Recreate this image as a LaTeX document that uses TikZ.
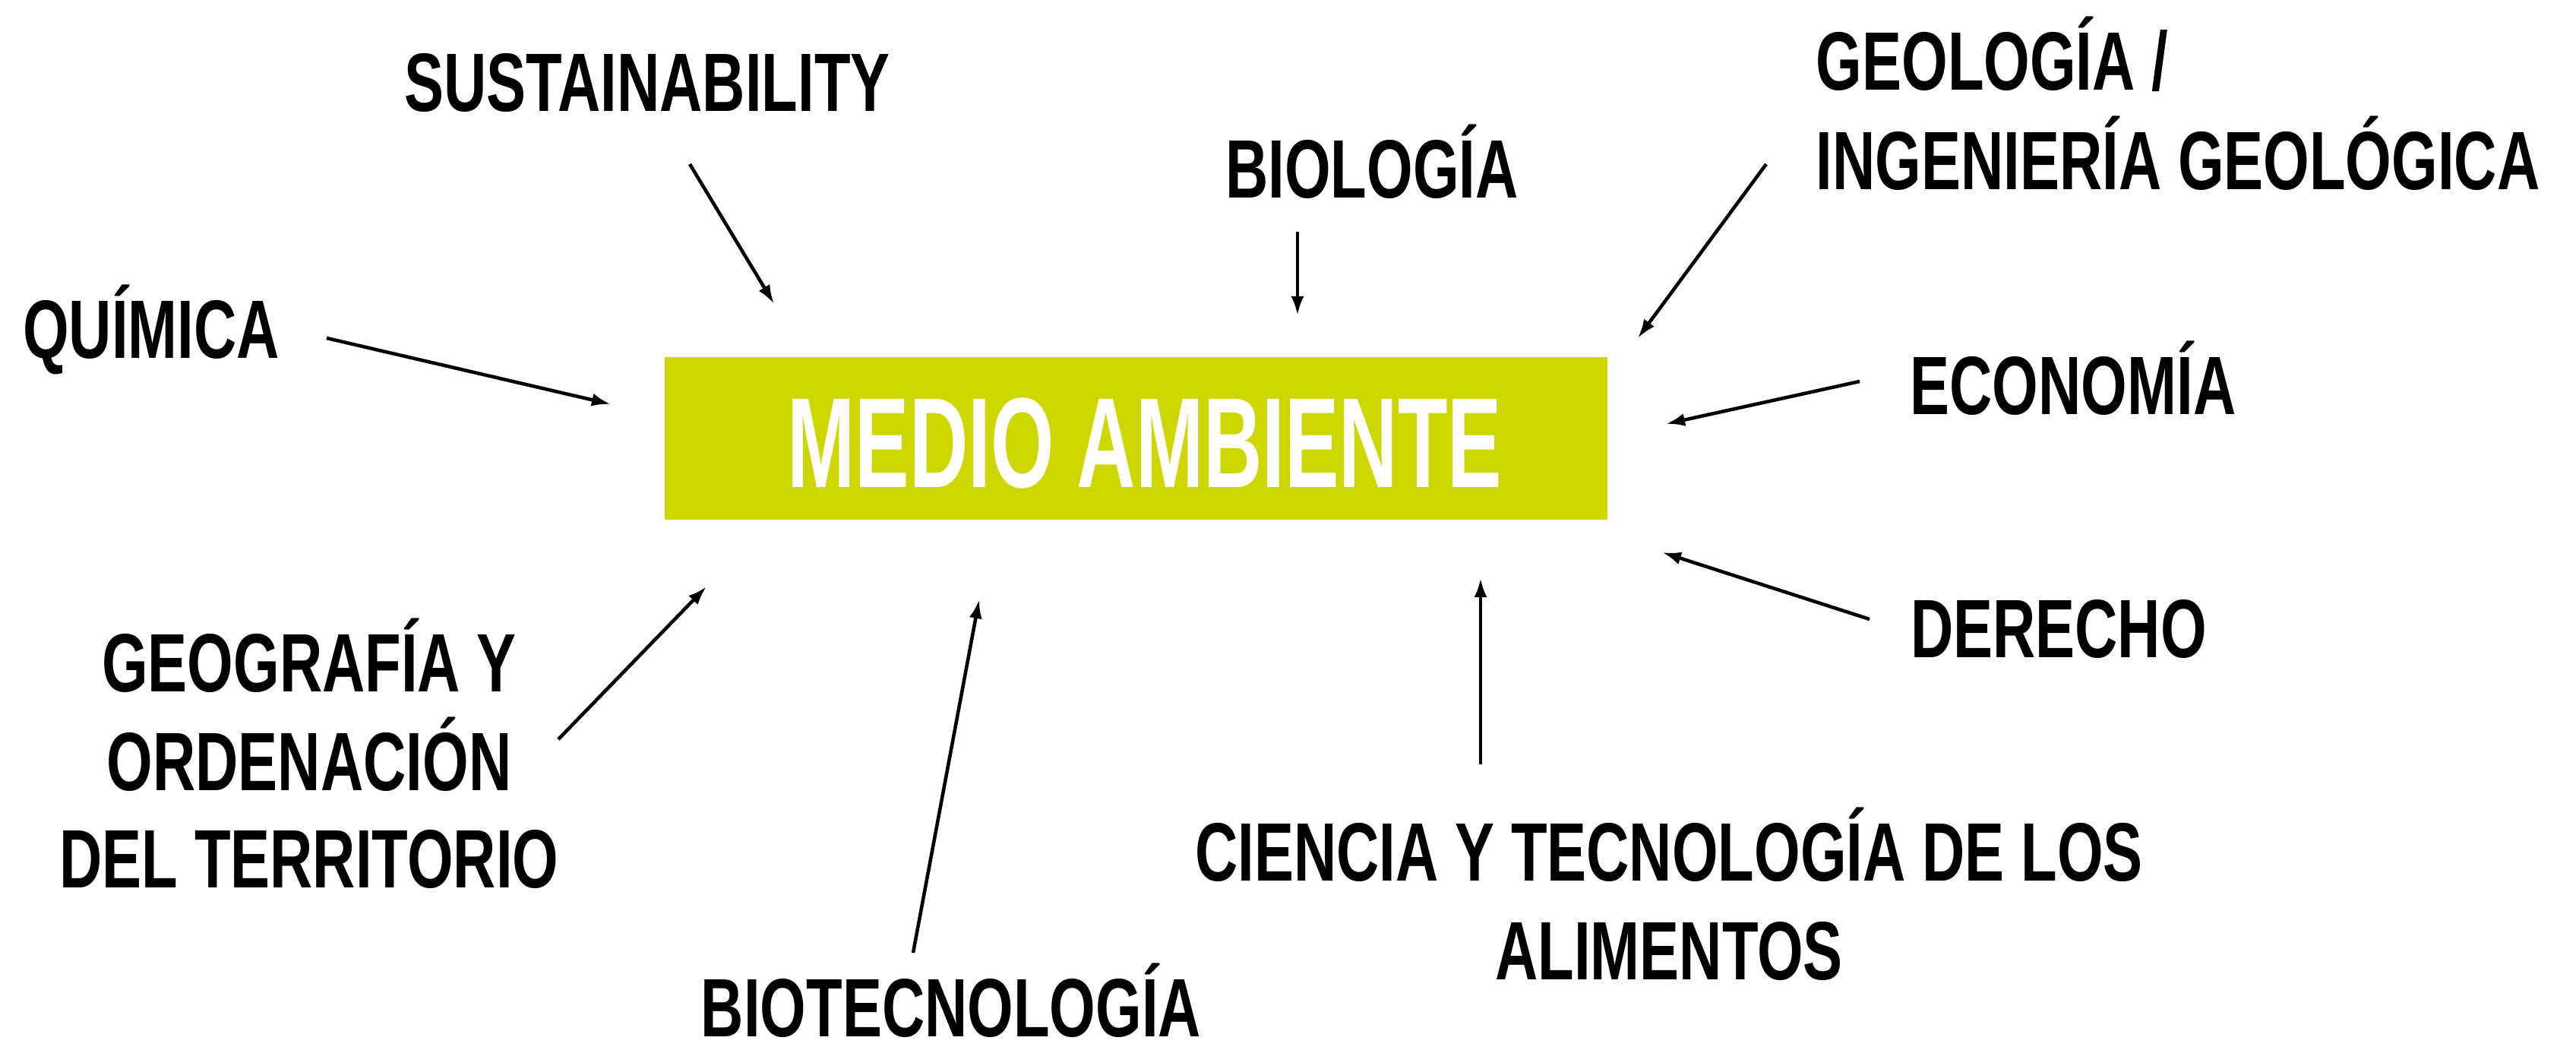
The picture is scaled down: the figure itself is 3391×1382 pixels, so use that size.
\documentclass[tikz,border=0pt]{standalone}
\usepackage{fontspec}
\usetikzlibrary{arrows.meta}
\newfontfamily\lblfont[FakeStretch=0.715]{Liberation Sans}
\newfontfamily\ctrfont[FakeStretch=0.635]{Liberation Sans}
\definecolor{boxgreen}{RGB}{206,214,0}
\begin{document}
\begin{tikzpicture}[x=0.01cm,y=-0.01cm,
  lbl/.style={font=\lblfont\bfseries\fontsize{31}{37}\selectfont, inner sep=0pt, text depth=0pt, anchor=base, text=black},
  conn/.style={line width=1.3pt, -{Latex[length=0.25cm,width=0.17cm]}}]
\useasboundingbox[fill=white] (0,0) rectangle (3391,1382);
% central box
\node[fill=boxgreen, minimum width=12.41cm, minimum height=2.14cm, inner sep=0pt, anchor=north west] (box) at (874,469) {};
\node[font=\ctrfont\bfseries\fontsize{48}{55}\selectfont, text=white, inner sep=0pt, anchor=base] (ma) at (1507,641) {MEDIO AMBIENTE};
% labels
\node[lbl] (sus) at (852,147) {SUSTAINABILITY};
\node[lbl] (bio) at (1806,260) {BIOLOGÍA};
\node[lbl, anchor=base west] (geo1) at (2390,119) {GEOLOGÍA /};
\node[lbl, anchor=base west] (geo2) at (2390,249) {INGENIERÍA GEOLÓGICA};
\node[lbl] (qui) at (199,471) {QUÍMICA};
\node[lbl] (eco) at (2729,545) {ECONOMÍA};
\node[lbl] (der) at (2710,865) {DERECHO};
\node[lbl] (gg1) at (407,910) {GEOGRAFÍA Y};
\node[lbl] (gg2) at (407,1040) {ORDENACIÓN};
\node[lbl] (gg3) at (407,1168) {DEL TERRITORIO};
\node[lbl] (btc) at (1252,1364) {BIOTECNOLOGÍA};
\node[lbl] (cta1) at (2197,1159) {CIENCIA Y TECNOLOGÍA DE LOS};
\node[lbl] (cta2) at (2197,1289) {ALIMENTOS};
% arrow endpoints
\coordinate (sA) at (908,216);  \coordinate (sB) at (1019,400);
\coordinate (qA) at (430,445);  \coordinate (qB) at (804,532);
\coordinate (bA) at (1708,305); \coordinate (bB) at (1708,415);
\coordinate (gA) at (2325,216); \coordinate (gB) at (2156,445);
\coordinate (eA) at (2448,502); \coordinate (eB) at (2193,558);
\coordinate (dA) at (2461,815); \coordinate (dB) at (2188,727);
\coordinate (cA) at (1949,1006);\coordinate (cB) at (1949,761);
\coordinate (oA) at (735,973);  \coordinate (oB) at (930,772);
\coordinate (tA) at (1202,1254);\coordinate (tB) at (1289,789);
\draw[conn] (sA) -- (sB);
\draw[conn] (qA) -- (qB);
\draw[conn] (bA) -- (bB);
\draw[conn] (gA) -- (gB);
\draw[conn] (eA) -- (eB);
\draw[conn] (dA) -- (dB);
\draw[conn] (cA) -- (cB);
\draw[conn] (oA) -- (oB);
\draw[conn] (tA) -- (tB);
\end{tikzpicture}
\end{document}
